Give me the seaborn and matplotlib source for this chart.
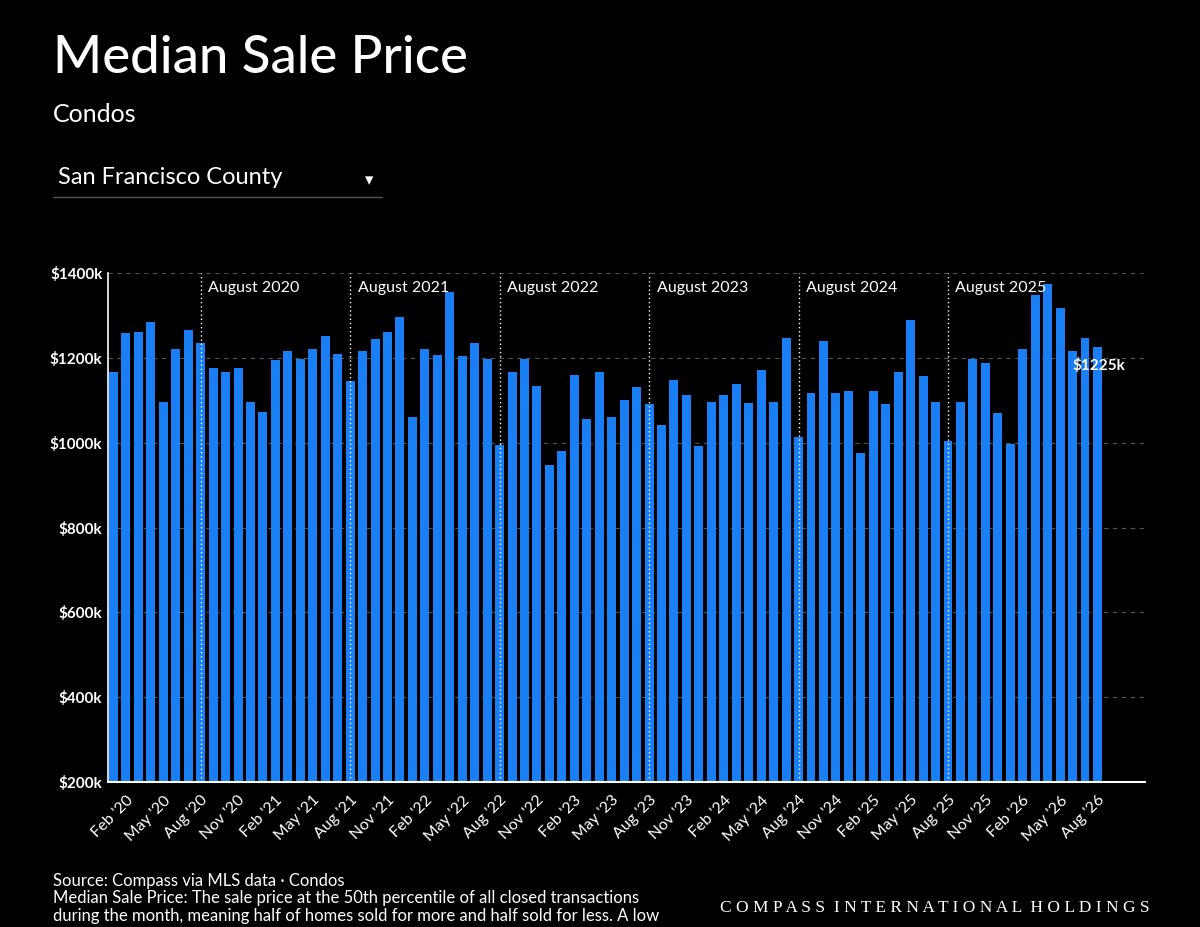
import matplotlib
matplotlib.use("Agg")
import matplotlib.pyplot as plt
import seaborn as sns
import pandas as pd

sns.set_theme(style="dark")
plt.rcParams['font.family'] = ['Lato', 'DejaVu Sans']

mon = ["Jan", "Feb", "Mar", "Apr", "May", "Jun", "Jul", "Aug", "Sep", "Oct", "Nov", "Dec"]
months = [f"{m} '{y:02d}" for y in range(20, 27) for m in mon][:80]
values = [1167, 1258, 1260, 1285, 1097, 1222, 1266, 1234, 1177, 1166, 1177, 1097,
          1072, 1195, 1217, 1197, 1222, 1251, 1208, 1146, 1217, 1245, 1262, 1296,
          1061, 1222, 1207, 1356, 1204, 1236, 1197, 995, 1167, 1197, 1133, 947,
          980, 1159, 1056, 1167, 1061, 1101, 1132, 1090, 1042, 1147, 1112, 992,
          1097, 1112, 1139, 1093, 1172, 1095, 1246, 1013, 1116, 1240, 1116, 1122,
          975, 1122, 1092, 1167, 1289, 1157, 1097, 1005, 1097, 1197, 1189, 1071,
          997, 1222, 1348, 1374, 1317, 1216, 1246, 1225]
aug_labels = ["August 2020", "August 2021", "August 2022", "August 2023", "August 2024", "August 2025"]
yticks = [200, 400, 600, 800, 1000, 1200, 1400]

df = pd.DataFrame({"month": months, "value": values})
fig = plt.figure(figsize=(12, 9.27), dpi=100, facecolor="black")
ax = fig.add_axes([0.09, 0.1564, 0.864, 0.5491], facecolor="black")
sns.barplot(data=df, x="month", y="value", color="#1a7ef5", saturation=1, width=0.72,
            linewidth=0, edgecolor="none", ax=ax)

ax.set_ylim(200, 1400)
ax.set_xlim(-0.44, 82.8)
ax.set_yticks(yticks)
ax.set_yticklabels([f"${v}k" for v in yticks], color="white", fontsize=11, fontweight="bold")
ax.set_xticks(range(len(months)))
ax.set_xticklabels([m if i % 3 == 1 else "" for i, m in enumerate(months)],
                   rotation=45, ha="right", rotation_mode="anchor", color="white", fontsize=11.5)
ax.tick_params(axis="x", colors="white", length=5, width=1, pad=3)
ax.tick_params(axis="y", length=0, pad=4)
for lab in ax.get_xticklabels():
    lab.set_color("white")
ax.set_xlabel("")
ax.set_ylabel("")
ax.grid(False)
for v in yticks[1:]:
    ax.axhline(v, color="#555555", lw=0.8, ls=(0, (4, 4)), zorder=0)
for s in ["top", "right"]:
    ax.spines[s].set_visible(False)
ax.spines["left"].set_color("white")
ax.spines["bottom"].set_color("white")
ax.spines["left"].set_linewidth(1.2)
ax.spines["bottom"].set_linewidth(1.5)

aug_idx = [i for i, m in enumerate(months) if m.startswith("Aug")]
for i, lab in zip(aug_idx, aug_labels):
    ax.axvline(i, color="white", lw=1, ls=(0, (1, 2)), zorder=3)
    ax.text(i + 0.6, 1365, lab, color="white", fontsize=11.5, va="center", ha="left")
ax.text(len(values) - 1 + 0.1, values[-1] - 42, f"${values[-1]}k", color="white",
        fontsize=11, fontweight="bold", ha="center", va="center", zorder=4)

fig.text(0.044, 0.937, "Median Sale Price", color="white", fontsize=38, fontweight="medium", va="center")
fig.text(0.044, 0.876, "Condos", color="white", fontsize=18, va="center")
fig.text(0.048, 0.809, "San Francisco County", color="white", fontsize=17, va="center")
fig.text(0.308, 0.806, "▾", color="white", fontsize=12, va="center", ha="center", family="DejaVu Sans")
fig.add_artist(plt.Line2D([0.044, 0.318], [0.787, 0.787], color="#555555", lw=1))

fig.text(0.044, 0.05, "Source: Compass via MLS data · Condos", color="white", fontsize=12, va="center")
fig.text(0.044, 0.031, "Median Sale Price: The sale price at the 50th percentile of all closed transactions",
         color="white", fontsize=12, va="center")
fig.text(0.044, 0.012, "during the month, meaning half of homes sold for more and half sold for less. A low",
         color="white", fontsize=12, va="center")
fig.text(0.958, 0.021, "C O M P A S S   I N T E R N A T I O N A L   H O L D I N G S".replace("   ", "  "),
         color="white", fontsize=12.5, family="Liberation Serif", ha="right", va="center")

fig.savefig("out.png", dpi=100, facecolor="black")
